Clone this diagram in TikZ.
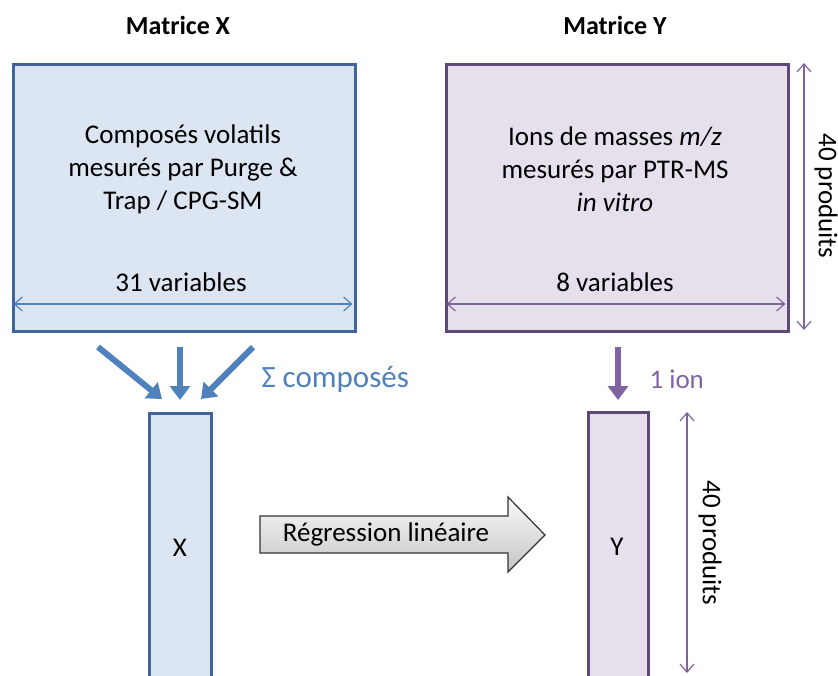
\documentclass[tikz,border=0pt]{standalone}
\usepackage{fontspec}
\setmainfont{Carlito}
\usetikzlibrary{arrows.meta,calc}
\definecolor{bfill}{HTML}{DCE6F2}
\definecolor{bdraw}{HTML}{41649A}
\definecolor{bacc}{HTML}{4F81BD}
\definecolor{pfill}{HTML}{E5E0EC}
\definecolor{pdraw}{HTML}{5F497A}
\definecolor{pacc}{HTML}{8064A2}
\tikzset{
  bigbox/.style={draw, line width=2.5pt, inner sep=0pt, anchor=north west},
  thinarr/.style={line width=1.2pt, {Straight Barb[length=8pt,width=14pt]}-{Straight Barb[length=8pt,width=14pt]}},
  thickarr/.style={line width=6pt, -{Triangle[length=14pt,width=20pt]}},
  body/.style={font=\fontsize{27}{33}\selectfont, align=center},
  big/.style={font=\fontsize{31}{36}\selectfont},
  title/.style={font=\fontsize{26}{30}\selectfont\bfseries},
}
\begin{document}
\begin{tikzpicture}[x=1pt,y=-1pt]
\useasboundingbox (0,0) rectangle (838,675);
\clip (0,0) rectangle (838,675);
% titles
\node[title] (tx) at (178,25) {Matrice X};
\node[title] (ty) at (615,25) {Matrice Y};
% big boxes
\node[bigbox, draw=bdraw, fill=bfill, minimum width=342pt, minimum height=267pt] (BX) at (12,63) {};
\node[bigbox, draw=pdraw, fill=pfill, minimum width=342pt, minimum height=267pt] (BY) at (445,63) {};
\node[body] (tBX) at (183,169) {Composés volatils\\mesurés par Purge \&\\Trap / CPG-SM};
\node[body] (tBY) at (615,169) {Ions de masses \textit{m/z}\\mesurés par PTR-MS\\\textit{in vitro}};
\node[body] (vX) at (181,282) {31 variables};
\node[body] (vY) at (615,282) {8 variables};
\coordinate (xl) at (13.5,304); \coordinate (xr) at (352.5,304);
\draw[thinarr, bacc] (xl) -- (xr);
\coordinate (yl) at (446.5,304); \coordinate (yr) at (785.5,304);
\draw[thinarr, pacc] (yl) -- (yr);
\coordinate (pt) at (804,63); \coordinate (pb) at (804,330);
\draw[thinarr, pacc] (pt) -- (pb);
\node[body, rotate=-90] (p1) at (826,196) {40 produits};
% columns
\node[bigbox, draw=bdraw, fill=bfill, minimum width=62pt, minimum height=300pt] (CX) at (148,412) {};
\node[bigbox, draw=pdraw, fill=pfill, minimum width=60pt, minimum height=300pt] (CY) at (587,411) {};
\node[body] (lx) at (180,548) {X};
\node[body] (ly) at (617,547) {Y};
\coordinate (qt) at (687,412); \coordinate (qb) at (687,673);
\draw[thinarr, pacc] (qt) -- (qb);
\node[body, rotate=-90] (p2) at (710,543) {40 produits};
% thick arrows
\coordinate (a1) at (98,347); \coordinate (b1) at (162,399);
\coordinate (a2) at (180,347); \coordinate (b2) at (180,400);
\coordinate (a3) at (253,347); \coordinate (b3) at (201,399);
\draw[thickarr, bacc] (a1) -- (b1);
\draw[thickarr, bacc] (a2) -- (b2);
\draw[thickarr, bacc] (a3) -- (b3);
\node[big, text=bacc, anchor=west] (sig) at (258,379) {Σ composés};
\coordinate (a4) at (618,347); \coordinate (b4) at (618,400);
\draw[thickarr, pacc] (a4) -- (b4);
\node[body, text=pacc, anchor=west] (ion) at (646,379) {1 ion};
% regression arrow
\draw[line width=1.2pt, top color=gray!5, bottom color=gray!45, draw=black!80]
  (260,516) -- (508,516) -- (508,497) -- (545,535) -- (508,572) -- (508,553) -- (260,553) -- cycle;
\node[body] (reg) at (386,534) {Régression linéaire};
\end{tikzpicture}
\end{document}
